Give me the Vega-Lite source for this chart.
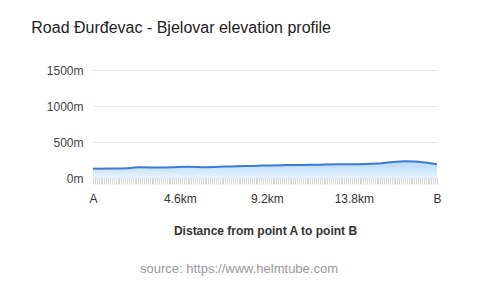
{
  "$schema": "https://vega.github.io/schema/vega-lite/v6.json",
  "padding": {"left": 31, "top": 20, "right": 12, "bottom": 5},
  "background": "white",
  "config": {"font": "Liberation Sans", "view": {"stroke": null}, "concat": {"spacing": 0}},
  "title": {"text": "Road Đurđevac - Bjelovar elevation profile", "anchor": "start", "frame": "bounds", "fontSize": 16, "fontWeight": "normal", "color": "#222", "offset": 28, "dx": -15},
  "vconcat": [
    {
      "width": 344,
      "height": 108,
      "title": {"text": "source: https://www.helmtube.com", "orient": "bottom", "anchor": "middle", "fontSize": 13, "fontWeight": "normal", "color": "#999", "offset": 27, "dx": -26},
      "data": {"values": [
        {"km": 0, "elev": 128},
        {"km": 1, "elev": 132},
        {"km": 2, "elev": 140},
        {"km": 2.5, "elev": 150},
        {"km": 3.5, "elev": 145},
        {"km": 4.2, "elev": 148},
        {"km": 5, "elev": 155},
        {"km": 6, "elev": 150},
        {"km": 7, "elev": 158},
        {"km": 8, "elev": 165},
        {"km": 9, "elev": 172},
        {"km": 10, "elev": 178},
        {"km": 11, "elev": 182},
        {"km": 12, "elev": 185},
        {"km": 13, "elev": 190},
        {"km": 14, "elev": 192},
        {"km": 15, "elev": 200},
        {"km": 15.7, "elev": 218},
        {"km": 16.5, "elev": 232},
        {"km": 17, "elev": 230},
        {"km": 17.6, "elev": 215},
        {"km": 18.2, "elev": 190}
      ]},
      "encoding": {
        "x": {
          "field": "km", "type": "quantitative",
          "scale": {"domain": [0, 18.2], "nice": false, "zero": false},
          "axis": {
            "title": "Distance from point A to point B",
            "titleFontWeight": "bold", "titleFontSize": 12, "titleColor": "#333", "titlePadding": 21,
            "tickCount": 182, "grid": false, "domain": false,
            "tickColor": "#d6d6d6", "tickSize": 6,
            "labelOverlap": false, "labelFlush": false, "labelPadding": 9,
            "labelFontSize": 12, "labelColor": "#333",
            "labelExpr": "datum.value < 0.05 ? 'A' : abs(datum.value-4.6) < 0.05 ? '4.6km' : abs(datum.value-9.2) < 0.05 ? '9.2km' : abs(datum.value-13.8) < 0.05 ? '13.8km' : datum.value > 18.15 ? 'B' : ''"
          }
        },
        "y": {
          "field": "elev", "type": "quantitative",
          "scale": {"domain": [0, 1500], "nice": false},
          "axis": {
            "title": null, "values": [0, 500, 1000, 1500],
            "labelExpr": "datum.value + 'm'",
            "ticks": false, "domain": false, "gridColor": "#e6e6e6",
            "labelPadding": 10, "labelFontSize": 12, "labelColor": "#444"
          }
        }
      },
      "layer": [
        {
          "mark": {
            "type": "area", "interpolate": "monotone",
            "color": {"gradient": "linear", "x1": 1, "y1": 1, "x2": 1, "y2": 0,
              "stops": [{"offset": 0, "color": "#e8f3fd"}, {"offset": 1, "color": "#b5d8f8"}]}
          }
        },
        {
          "mark": {"type": "line", "interpolate": "monotone", "color": "#3a7bd5", "strokeWidth": 2}
        }
      ]
    }
  ]
}
